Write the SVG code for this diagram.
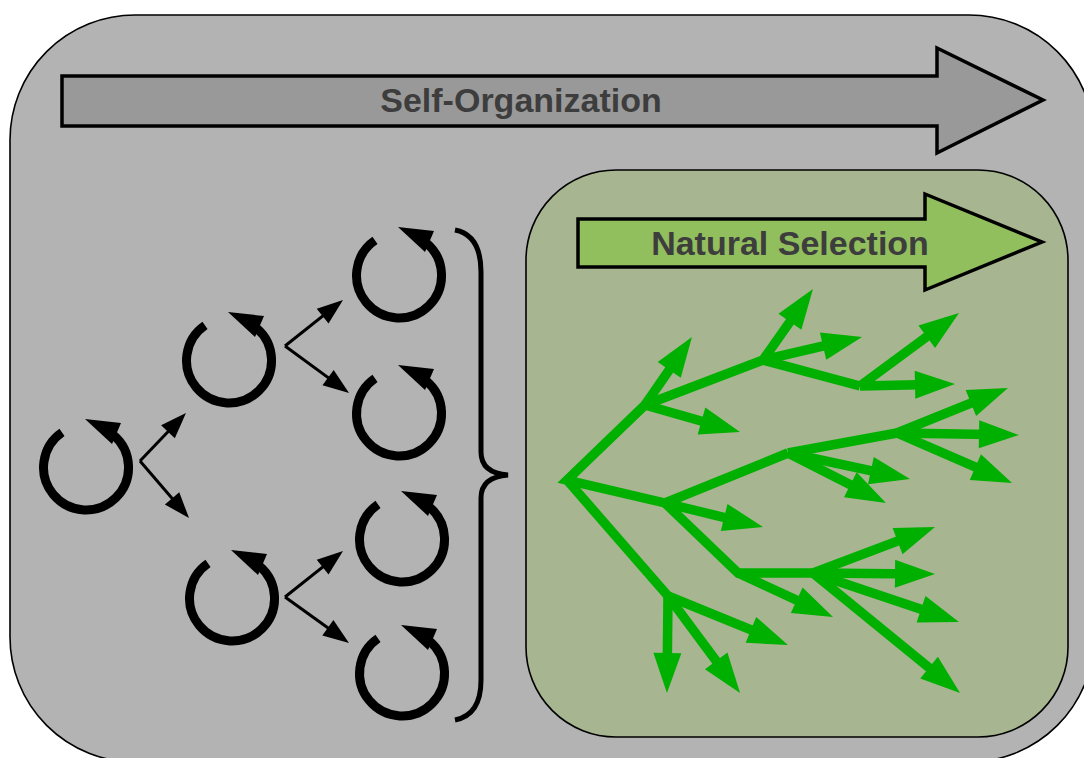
<svg xmlns="http://www.w3.org/2000/svg" width="1084" height="758" viewBox="0 0 1084 758">
  <style>
    .panel { stroke: #000; stroke-width: 1.6; }
    .bigarrow { stroke: #000; stroke-width: 3.5; stroke-linejoin: miter; }
    .label { font-family: "Liberation Sans", Arial, sans-serif; font-weight: bold; font-size: 34px; fill: #3d3d3d; text-anchor: middle; }
    .ring { fill: none; stroke: #000; stroke-width: 9; }
    .fork { fill: none; stroke: #000; stroke-width: 3; marker-end: url(#headBlack); }
    .brace { fill: none; stroke: #000; stroke-width: 5; stroke-linecap: butt; }
    .trunk { fill: none; stroke: #00b000; stroke-width: 9.5; stroke-linejoin: miter; }
    .twig { fill: none; stroke: #00b000; stroke-width: 9.5; marker-end: url(#headGreen); }
  </style>
  <defs>
    <marker id="headBlack" markerUnits="userSpaceOnUse" markerWidth="26" markerHeight="19" refX="20" refY="9.5" orient="auto" overflow="visible">
      <path d="M0,0 L26,9.5 L0,19 Z" fill="#000"/>
    </marker>
    <marker id="headGreen" markerUnits="userSpaceOnUse" markerWidth="40" markerHeight="28" refX="26" refY="14" orient="auto" overflow="visible">
      <path d="M0,0 L40,14 L0,28 Z" fill="#00b000"/>
    </marker>
    <!-- circular arrow centred on the origin -->
    <g id="cycle">
      <path class="ring" d="M-24,-35.6 A42.5,42.5 0 1 0 27.6,-32.9"/>
      <path d="M-1,-49 L35,-45 L26,-24 Z" fill="#000"/>
    </g>
  </defs>

  <!-- outer panel -->
  <g id="self-organization-panel">
    <rect class="panel" x="10" y="15" width="1084" height="747" rx="125" ry="125" fill="#b3b3b3"/>
  </g>

  <!-- Self-Organization banner arrow -->
  <g id="self-organization-arrow">
    <path class="bigarrow" fill="#999999" d="M62,76 L937,76 L937,48 L1043,100 L937,153 L937,126 L62,126 Z"/>
    <text class="label" x="521" y="112">Self-Organization</text>
  </g>

  <!-- inner panel -->
  <g id="natural-selection-panel">
    <rect class="panel" x="526" y="170" width="542" height="567" rx="90" ry="90" fill="#a7b690"/>
  </g>

  <!-- Natural Selection banner arrow -->
  <g id="natural-selection-arrow">
    <path class="bigarrow" fill="#92bf5d" d="M578,219 L925,219 L925,194 L1042,242 L925,290 L925,267 L578,267 Z"/>
    <text class="label" x="790" y="255">Natural Selection</text>
  </g>

  <!-- self-reproducing cycles -->
  <g id="cycle-1"><use href="#cycle" x="86" y="468"/></g>
  <g id="cycle-2"><use href="#cycle" x="229" y="361"/></g>
  <g id="cycle-3"><use href="#cycle" x="232" y="599"/></g>
  <g id="cycle-4"><use href="#cycle" x="399" y="276"/></g>
  <g id="cycle-5"><use href="#cycle" x="399" y="414"/></g>
  <g id="cycle-6"><use href="#cycle" x="402" y="540"/></g>
  <g id="cycle-7"><use href="#cycle" x="402" y="674"/></g>

  <!-- branching connectors between cycles -->
  <g id="connectors">
    <path class="fork" d="M140,461 L181.8,417.3"/>
    <path class="fork" d="M140,461 L185.1,513.5"/>
    <path class="fork" d="M285,346 L338.3,303.7"/>
    <path class="fork" d="M285,346 L344.2,389.4"/>
    <path class="fork" d="M285,597 L338.3,554.7"/>
    <path class="fork" d="M285,597 L344.1,639.5"/>
  </g>

  <!-- grouping brace -->
  <g id="brace">
    <path class="brace" d="M455,230 Q481,235 481,272 L481,452 Q481,473 508,475 Q481,477 481,498 L481,680 Q481,715 455,720"/>
  </g>

  <!-- evolutionary tree -->
  <g id="tree">
    <path class="trunk" d="M645,405 L567,480 L665,503"/>
    <path class="trunk" d="M567,480 L668,596"/>
    <path class="trunk" d="M645,405 L763,360 L860,386"/>
    <path class="trunk" d="M788,453 L665,503 L738,573 L813,573"/>
    <path class="trunk" d="M788,453 L897,433"/>

    <path class="twig" d="M645,405 L684,348.5"/>
    <path class="twig" d="M645,405 L726.5,428.2"/>
    <path class="twig" d="M763,360 L804.9,300.5"/>
    <path class="twig" d="M763,360 L848.4,340.2"/>
    <path class="twig" d="M860,386 L947.7,321.3"/>
    <path class="twig" d="M860,386 L941,384.3"/>
    <path class="twig" d="M665,503 L749.4,523.7"/>
    <path class="twig" d="M788,453 L896.3,476.1"/>
    <path class="twig" d="M788,453 L873.5,496.6"/>
    <path class="twig" d="M897,433 L995,393.3"/>
    <path class="twig" d="M897,433 L1005,434.8"/>
    <path class="twig" d="M897,433 L999.2,477.4"/>
    <path class="twig" d="M738,573 L820.3,611.1"/>
    <path class="twig" d="M813,573 L921.9,531.9"/>
    <path class="twig" d="M813,573 L921,573.9"/>
    <path class="twig" d="M813,573 L945.7,617.5"/>
    <path class="twig" d="M813,573 L949.2,684.1"/>
    <path class="twig" d="M668,596 L667.1,679"/>
    <path class="twig" d="M668,596 L731.7,681.8"/>
    <path class="twig" d="M668,596 L775,639.7"/>
  </g>
</svg>
